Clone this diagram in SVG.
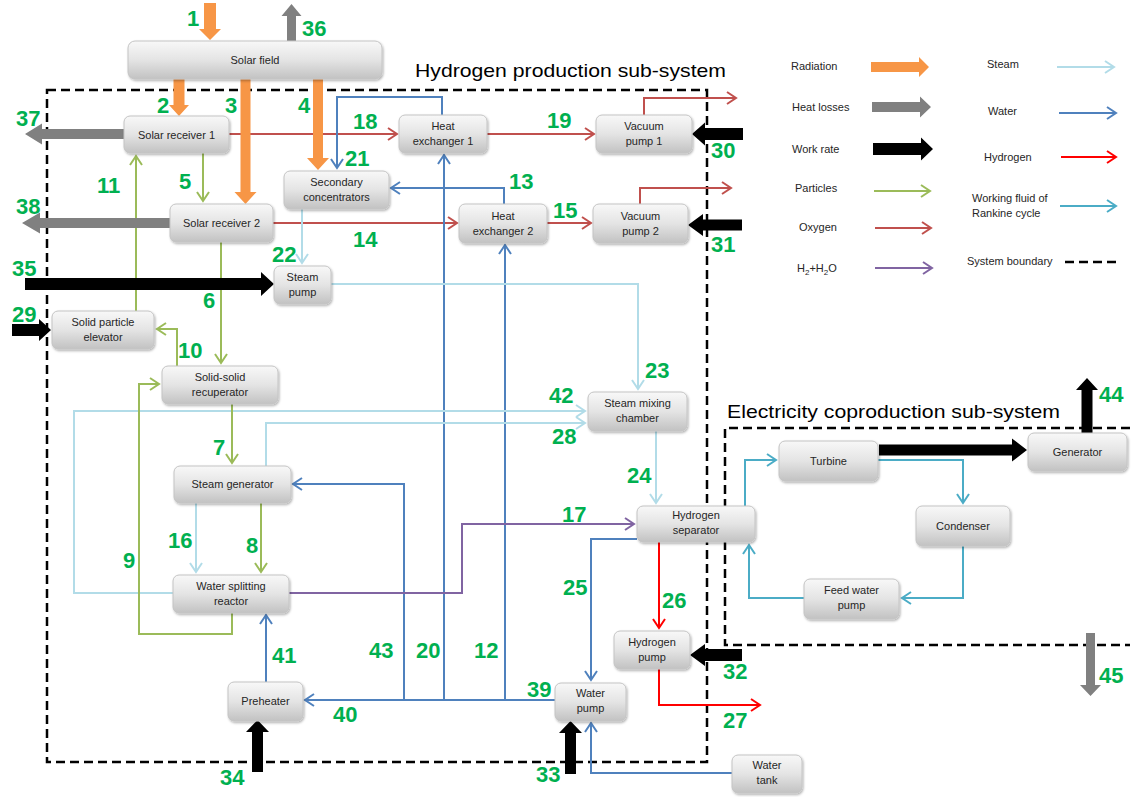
<svg xmlns="http://www.w3.org/2000/svg" width="1133" height="797" viewBox="0 0 1133 797">
<style>
.node rect{fill:url(#ng);stroke:#c4c4c4;stroke-width:1;filter:url(#sh)}
.node text,.leg{font-family:"Liberation Sans",Arial,sans-serif;font-size:11px;fill:#262626;text-anchor:middle}
.leg{text-anchor:start}
.num{font-family:"Liberation Sans",Arial,sans-serif;font-size:22px;font-weight:bold;fill:#00B050}
.title{font-family:"Liberation Sans",Arial,sans-serif;font-size:19px;fill:#000}
.bd{fill:none;stroke:#000;stroke-width:2.5;stroke-dasharray:9 5}
.c{fill:none;stroke-width:2}
.ox{stroke:#C0504D;marker-end:url(#m-ox)}
.wa{stroke:#4F81BD;marker-end:url(#m-wa)}
.st{stroke:#B2DCE8;marker-end:url(#m-st)}
.pa{stroke:#9BBB59;marker-end:url(#m-pa)}
.pu{stroke:#8064A2;marker-end:url(#m-pu)}
.hy{stroke:#FF0000;marker-end:url(#m-hy)}
.rk{stroke:#4BACC6;marker-end:url(#m-rk)}
.rad{fill:#F79646}.hl{fill:#808080}.wk{fill:#000}
</style>
<defs>
<linearGradient id="ng" x1="0" y1="0" x2="0" y2="1">
<stop offset="0" stop-color="#f8f8f8"/><stop offset="0.5" stop-color="#e4e4e4"/><stop offset="1" stop-color="#c2c2c2"/>
</linearGradient>
<filter id="sh" x="-10%" y="-20%" width="125%" height="150%"><feDropShadow dx="1" dy="1.5" stdDeviation="1" flood-color="#000" flood-opacity="0.3"/></filter>
<marker id="m-ox" viewBox="-11 -7 13 14" refX="0" refY="0" markerWidth="13" markerHeight="14" markerUnits="userSpaceOnUse" orient="auto"><path d="M-9,-6 L0,0 L-9,6" fill="none" stroke="#C0504D" stroke-width="2"/></marker>
<marker id="m-wa" viewBox="-11 -7 13 14" refX="0" refY="0" markerWidth="13" markerHeight="14" markerUnits="userSpaceOnUse" orient="auto"><path d="M-9,-6 L0,0 L-9,6" fill="none" stroke="#4F81BD" stroke-width="2"/></marker>
<marker id="m-st" viewBox="-11 -7 13 14" refX="0" refY="0" markerWidth="13" markerHeight="14" markerUnits="userSpaceOnUse" orient="auto"><path d="M-9,-6 L0,0 L-9,6" fill="none" stroke="#B2DCE8" stroke-width="2"/></marker>
<marker id="m-pa" viewBox="-11 -7 13 14" refX="0" refY="0" markerWidth="13" markerHeight="14" markerUnits="userSpaceOnUse" orient="auto"><path d="M-9,-6 L0,0 L-9,6" fill="none" stroke="#9BBB59" stroke-width="2"/></marker>
<marker id="m-pu" viewBox="-11 -7 13 14" refX="0" refY="0" markerWidth="13" markerHeight="14" markerUnits="userSpaceOnUse" orient="auto"><path d="M-9,-6 L0,0 L-9,6" fill="none" stroke="#8064A2" stroke-width="2"/></marker>
<marker id="m-hy" viewBox="-11 -7 13 14" refX="0" refY="0" markerWidth="13" markerHeight="14" markerUnits="userSpaceOnUse" orient="auto"><path d="M-9,-6 L0,0 L-9,6" fill="none" stroke="#FF0000" stroke-width="2"/></marker>
<marker id="m-rk" viewBox="-11 -7 13 14" refX="0" refY="0" markerWidth="13" markerHeight="14" markerUnits="userSpaceOnUse" orient="auto"><path d="M-9,-6 L0,0 L-9,6" fill="none" stroke="#4BACC6" stroke-width="2"/></marker>
</defs>
<rect width="1133" height="797" fill="#fff"/>

<g id="boundaries">
<path class="bd" d="M47,90 H707 V762 H47 Z"/>
<path class="bd" d="M1130,428 H725 V645 H1130"/>
<text class="title" x="415" y="77" textLength="311" lengthAdjust="spacingAndGlyphs">Hydrogen production sub-system</text>
<text class="title" x="727" y="418" textLength="333" lengthAdjust="spacingAndGlyphs">Electricity coproduction sub-system</text>
</g>

<g id="connectors">
<!-- oxygen -->
<path class="c ox" d="M229,134 H397"/>
<path class="c ox" d="M487,134 H594"/>
<path class="c ox" d="M644,115 V98 H736"/>
<path class="c ox" d="M273,223 H457"/>
<path class="c ox" d="M547,223 H591"/>
<path class="c ox" d="M640,204 V188 H731"/>
<!-- water -->
<path class="c wa" d="M442,115 V97 H337 V168"/>
<path class="c wa" d="M504,204 V188 H391"/>
<path class="c wa" d="M444,700 V155"/>
<path class="c wa" d="M505,700 V245"/>
<path class="c wa" d="M404,700 V484 H293"/>
<path class="c wa" d="M555,700 H305"/>
<path class="c wa" d="M266,682 V615"/>
<path class="c wa" d="M637,539 H591 V680"/>
<path class="c wa" d="M732,773 H591 V723"/>
<!-- steam -->
<path class="c st" d="M302,209 V263"/>
<path class="c st" d="M331,284 H638 V389"/>
<path class="c st" d="M173,593 H74 V411 H585"/>
<path class="c st" d="M266,466 V423 H585"/>
<path class="c st" d="M656,431 V503"/>
<path class="c st" d="M196,503 V572"/>
<!-- particles -->
<path class="c pa" d="M203,153 V201"/>
<path class="c pa" d="M221,242 V363"/>
<path class="c pa" d="M136,311 V156"/>
<path class="c pa" d="M177,366 V329 H157"/>
<path class="c pa" d="M232,404 V463"/>
<path class="c pa" d="M261,503 V572"/>
<path class="c pa" d="M232,613 V634 H139 V384 H159"/>
<!-- H2+H2O -->
<path class="c pu" d="M289,593 H462 V524 H634"/>
<!-- hydrogen -->
<path class="c hy" d="M659,542 V628"/>
<path class="c hy" d="M659,669 V705 H760"/>
<!-- rankine -->
<path class="c rk" d="M745,506 V460 H776"/>
<path class="c rk" d="M878,460 H963 V503"/>
<path class="c rk" d="M963,546 V598 H902"/>
<path class="c rk" d="M804,598 H749 V545"/>
<!-- radiation -->
<polygon class="rad" points="204,3 216,3 216,29 221,29 210,40 199,29 204,29"/>
<polygon class="rad" points="173.5,79 184.5,79 184.5,105 189,105 179,116 169,105 173.5,105"/>
<polygon class="rad" points="240.5,79 250.5,79 250.5,192 256.5,192 245.5,204 234.5,192 240.5,192"/>
<polygon class="rad" points="313,79 323,79 323,158 329,158 318,170 307,158 313,158"/>
<!-- heat losses -->
<polygon class="hl" points="287,41 296,41 296,16 301.5,16 291.5,4 281.5,16 287,16"/>
<polygon class="hl" points="124,129 42,129 42,123.5 25,134 42,144.5 42,139 124,139"/>
<polygon class="hl" points="170,218 40,218 40,212.5 22,223 40,233.5 40,228 170,228"/>
<polygon class="hl" points="1086,633 1095,633 1095,685 1101,685 1090.5,696 1080,685 1086,685"/>
<!-- work -->
<polygon class="wk" points="25,278 261,278 261,272 274,284 261,296 261,290 25,290"/>
<polygon class="wk" points="12,324 39,324 39,319 51,330 39,341 39,336 12,336"/>
<polygon class="wk" points="743,128 705,128 705,122.5 692,134 705,145.5 705,140 743,140"/>
<polygon class="wk" points="742,219.5 703,219.5 703,214 688,225 703,236 703,230.5 742,230.5"/>
<polygon class="wk" points="742,649 705,649 705,644 690,655 705,666 705,661 742,661"/>
<polygon class="wk" points="565,774 576,774 576,733 582,733 570.5,721 559,733 565,733"/>
<polygon class="wk" points="252,772 263,772 263,732 269,732 257.5,720 246,732 252,732"/>
<polygon class="wk" points="879,444.5 1012,444.5 1012,438.5 1027,450 1012,461.5 1012,455.5 879,455.5"/>
<polygon class="wk" points="1081.5,433 1092.5,433 1092.5,390 1098,390 1087,378 1076,390 1081.5,390"/>
</g>

<g id="labels">
<text class="num" x="187" y="26">1</text>
<text class="num" x="302" y="36">36</text>
<text class="num" x="157" y="113">2</text>
<text class="num" x="225" y="113">3</text>
<text class="num" x="298" y="113">4</text>
<text class="num" x="16" y="126">37</text>
<text class="num" x="353" y="129">18</text>
<text class="num" x="547" y="128">19</text>
<text class="num" x="711" y="158">30</text>
<text class="num" x="345" y="166">21</text>
<text class="num" x="179" y="189">5</text>
<text class="num" x="97" y="193">11</text>
<text class="num" x="509" y="189">13</text>
<text class="num" x="16" y="214">38</text>
<text class="num" x="553" y="218">15</text>
<text class="num" x="353" y="247">14</text>
<text class="num" x="711" y="252">31</text>
<text class="num" x="272" y="262">22</text>
<text class="num" x="12" y="276">35</text>
<text class="num" x="203" y="308">6</text>
<text class="num" x="12" y="322">29</text>
<text class="num" x="178" y="358">10</text>
<text class="num" x="645" y="378">23</text>
<text class="num" x="549" y="403">42</text>
<text class="num" x="552" y="444">28</text>
<text class="num" x="213" y="455">7</text>
<text class="num" x="627" y="483">24</text>
<text class="num" x="562" y="522">17</text>
<text class="num" x="168" y="548">16</text>
<text class="num" x="246" y="553">8</text>
<text class="num" x="123" y="568">9</text>
<text class="num" x="563" y="595">25</text>
<text class="num" x="662" y="608">26</text>
<text class="num" x="369" y="658">43</text>
<text class="num" x="416" y="658">20</text>
<text class="num" x="474" y="658">12</text>
<text class="num" x="272" y="663">41</text>
<text class="num" x="723" y="679">32</text>
<text class="num" x="527" y="697">39</text>
<text class="num" x="333" y="722">40</text>
<text class="num" x="723" y="728">27</text>
<text class="num" x="536" y="782">33</text>
<text class="num" x="220" y="785">34</text>
<text class="num" x="1099" y="402">44</text>
<text class="num" x="1099" y="683">45</text>
</g>

<g id="solar-field" class="node"><rect x="128" y="41" width="254" height="38" rx="7"/><text x="255" y="64">Solar field</text></g>
<g id="solar-receiver-1" class="node"><rect x="124" y="116" width="105" height="37" rx="6"/><text x="176.5" y="138.5">Solar receiver 1</text></g>
<g id="solar-receiver-2" class="node"><rect x="170" y="204" width="103" height="38" rx="6"/><text x="221.5" y="227">Solar receiver 2</text></g>
<g id="secondary-concentrators" class="node"><rect x="284" y="171" width="105" height="38" rx="6"/><text x="336.5" y="186">Secondary</text><text x="336.5" y="201">concentrators</text></g>
<g id="heat-exchanger-1" class="node"><rect x="399" y="115" width="88" height="38" rx="6"/><text x="443" y="130">Heat</text><text x="443" y="145">exchanger 1</text></g>
<g id="heat-exchanger-2" class="node"><rect x="459" y="204" width="88" height="39" rx="6"/><text x="503" y="219.5">Heat</text><text x="503" y="234.5">exchanger 2</text></g>
<g id="vacuum-pump-1" class="node"><rect x="596" y="115" width="96" height="38" rx="6"/><text x="644" y="130">Vacuum</text><text x="644" y="145">pump 1</text></g>
<g id="vacuum-pump-2" class="node"><rect x="593" y="204" width="95" height="39" rx="6"/><text x="640.5" y="219.5">Vacuum</text><text x="640.5" y="234.5">pump 2</text></g>
<g id="steam-pump" class="node"><rect x="274" y="266" width="57" height="38" rx="6"/><text x="302.5" y="280.5">Steam</text><text x="302.5" y="295.5">pump</text></g>
<g id="solid-particle-elevator" class="node"><rect x="52" y="311" width="102" height="38" rx="6"/><text x="103" y="326">Solid particle</text><text x="103" y="341">elevator</text></g>
<g id="solid-solid-recuperator" class="node"><rect x="162" y="366" width="116" height="38" rx="6"/><text x="220" y="380.5">Solid-solid</text><text x="220" y="395.5">recuperator</text></g>
<g id="steam-mixing-chamber" class="node"><rect x="588" y="392" width="99" height="39" rx="6"/><text x="637.5" y="407">Steam mixing</text><text x="637.5" y="422">chamber</text></g>
<g id="steam-generator" class="node"><rect x="174" y="466" width="117" height="37" rx="6"/><text x="232.5" y="488">Steam generator</text></g>
<g id="hydrogen-separator" class="node"><rect x="637" y="506" width="118" height="36" rx="6"/><text x="696" y="518.5">Hydrogen</text><text x="696" y="533.5">separator</text></g>
<g id="water-splitting-reactor" class="node"><rect x="173" y="575" width="116" height="38" rx="6"/><text x="231" y="590">Water splitting</text><text x="231" y="605">reactor</text></g>
<g id="hydrogen-pump" class="node"><rect x="614" y="631" width="76" height="38" rx="6"/><text x="652" y="646">Hydrogen</text><text x="652" y="661">pump</text></g>
<g id="preheater" class="node"><rect x="228" y="682" width="75" height="39" rx="6"/><text x="265.5" y="705">Preheater</text></g>
<g id="water-pump" class="node"><rect x="555" y="683" width="71" height="38" rx="6"/><text x="590.5" y="697">Water</text><text x="590.5" y="712">pump</text></g>
<g id="water-tank" class="node"><rect x="732" y="755" width="70" height="38" rx="6"/><text x="767" y="769">Water</text><text x="767" y="784">tank</text></g>
<g id="turbine" class="node"><rect x="779" y="441" width="99" height="40" rx="6"/><text x="828.5" y="465">Turbine</text></g>
<g id="generator" class="node"><rect x="1028" y="433" width="99" height="38" rx="6"/><text x="1077.5" y="456">Generator</text></g>
<g id="condenser" class="node"><rect x="916" y="506" width="94" height="40" rx="6"/><text x="963" y="530">Condenser</text></g>
<g id="feed-water-pump" class="node"><rect x="804" y="579" width="95" height="40" rx="6"/><text x="851.5" y="594">Feed water</text><text x="851.5" y="609">pump</text></g>

<g id="legend">
<text class="leg" x="791" y="70">Radiation</text>
<polygon class="rad" points="871,62 919,62 919,57 929,67 919,77 919,72 871,72"/>
<text class="leg" x="792" y="111">Heat losses</text>
<polygon class="hl" points="872,102 920,102 920,96.5 931,107 920,117.5 920,112 872,112"/>
<text class="leg" x="792" y="153">Work rate</text>
<polygon class="wk" points="873,143 921,143 921,137.5 933,149 921,160.5 921,155 873,155"/>
<text class="leg" x="795" y="192">Particles</text>
<path class="c pa" d="M874,191 H930"/>
<text class="leg" x="799" y="231">Oxygen</text>
<path class="c ox" d="M875,228 H931"/>
<text class="leg" x="797" y="272">H<tspan font-size="8" dy="3">2</tspan><tspan dy="-3">+H</tspan><tspan font-size="8" dy="3">2</tspan><tspan dy="-3">O</tspan></text>
<path class="c pu" d="M875,268 H932"/>
<text class="leg" x="987" y="68">Steam</text>
<path class="c st" d="M1057,67 H1114"/>
<text class="leg" x="988" y="115">Water</text>
<path class="c wa" d="M1059,113 H1116"/>
<text class="leg" x="984" y="161">Hydrogen</text>
<path class="c hy" d="M1061,157 H1116"/>
<text class="leg" x="972" y="202">Working fluid of</text>
<text class="leg" x="972" y="217">Rankine cycle</text>
<path class="c rk" d="M1060,206 H1116"/>
<text class="leg" x="967" y="265">System boundary</text>
<path class="bd" d="M1065,262 H1121"/>
</g>
</svg>
